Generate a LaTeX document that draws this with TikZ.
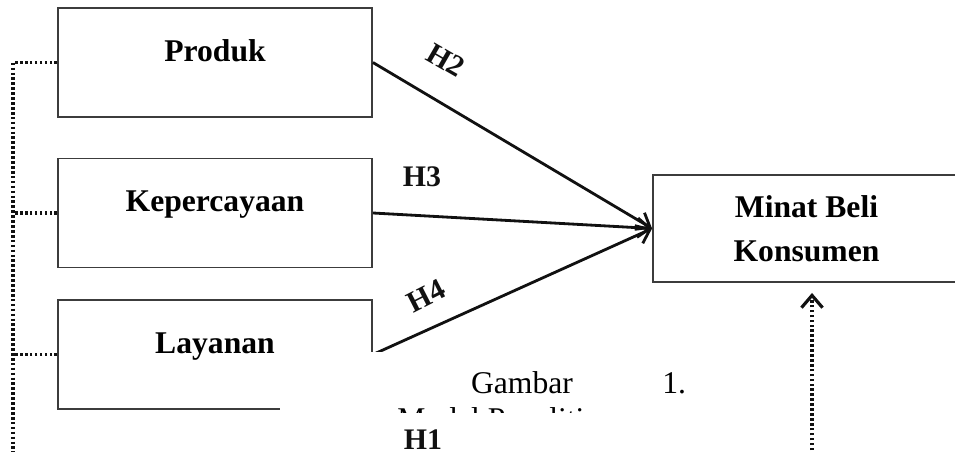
\documentclass[tikz,border=0pt]{standalone}
\usepackage{fontspec}
\setmainfont{Liberation Serif}
\usetikzlibrary{positioning, calc, arrows.meta}
\definecolor{boxLine}{HTML}{3C3C3C}
\definecolor{inkBlack}{HTML}{111111}

\begin{document}
\begin{tikzpicture}[x=0.02cm, y=-0.02cm,
  varBox/.style={draw=boxLine, line width=1.1pt, minimum width=6.28cm, minimum height=2.18cm,
     inner sep=0pt, text height=0.45cm, text depth=0.5cm, font=\fontsize{18}{20}\selectfont\bfseries},
  depBox/.style={draw=boxLine, line width=1.1pt, minimum width=6.14cm, minimum height=2.14cm,
     inner sep=0pt, align=center, font=\fontsize{18}{25}\selectfont\bfseries},
  hypLab/.style={text=inkBlack, inner sep=0pt, font=\fontsize{17}{18}\selectfont\bfseries},
  hypArrow/.style={draw=inkBlack, line width=1.6pt, -{Straight Barb[length=7pt, width=11pt]}},
  dotLine/.style={draw=inkBlack, line width=1.8pt, dash pattern=on 1.5pt off 1.3pt},
  capText/.style={inner sep=0pt, font=\fontsize{18}{20}\selectfont}]
  \useasboundingbox (0,0) rectangle (955,452);
  \clip (0,0) rectangle (955,452);
  % variables
  \node[varBox] (prod) at (215,62.5) {Produk};
  \node[varBox] (kep) at (215,213) {Kepercayaan};
  \node[varBox] (lay) at (215,354.5) {Layanan};
  \node[depBox] (minat) at (806.5,228.5) {Minat Beli\\Konsumen};
  % hypotheses
  \draw[hypArrow] (prod.east) -- (minat.west);
  \draw[hypArrow] (kep.east) -- (minat.west);
  \draw[hypArrow] (lay.east) -- (minat.west);
  \node[hypLab, rotate=-30] (h2) at (446,60) {H2};
  \node[hypLab] (h3) at (422,177) {H3};
  \node[hypLab, rotate=27] (h4) at (426,296) {H4};
  % simultaneous path (H1)
  \coordinate (dBot) at (13,460);
  \coordinate (fBot) at (812,460);
  \draw[dotLine] (prod.west) -- (prod.west -| dBot) -- (dBot);
  \draw[dotLine] (kep.west) -- (kep.west -| dBot);
  \draw[dotLine] (lay.west) -- (lay.west -| dBot);
  \draw[dotLine, shorten >=0.2cm, -{Straight Barb[length=7pt, width=12pt]}] (fBot) -- (fBot |- minat.south);
  \node[hypLab] (h1) at (423,440) {H1};
  % caption block over the figure
  \fill[white] (280,352) rectangle (720,412);
  \begin{scope}
    \clip (280,352) rectangle (720,412);
    \node[capText, anchor=base] (gbr) at (522,393) {Gambar};
    \node[capText, anchor=base west] (gnum) at (662,393) {1.};
    \node[capText, anchor=base west] (gtitle) at (397,429) {Model Penelitian};
  \end{scope}
\end{tikzpicture}
\end{document}
